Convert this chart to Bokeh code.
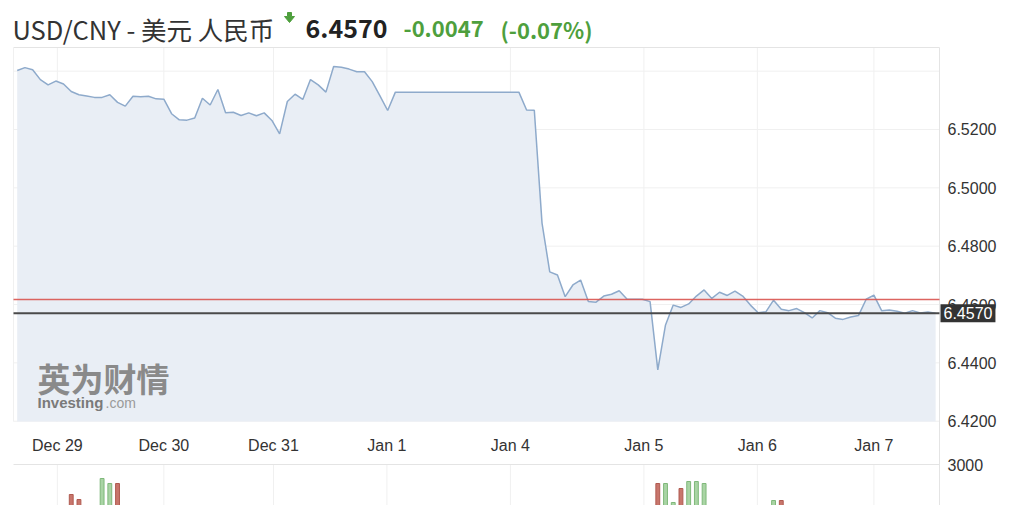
from bokeh.plotting import figure
from bokeh.models import Range1d, Label, PolyAnnotation, ColumnDataSource
from bokeh.core.properties import value
from bokeh.embed import file_html
from bokeh.resources import INLINE

# ---------------- data ----------------
price = [
    6.5402, 6.5412, 6.5405, 6.5371, 6.5353, 6.5366, 6.5356, 6.5330, 6.5319, 6.5315,
    6.5310, 6.5310, 6.5319, 6.5293, 6.5280, 6.5314, 6.5312, 6.5314, 6.5305, 6.5304,
    6.5254, 6.5233, 6.5232, 6.5239, 6.5307, 6.5284, 6.5337, 6.5257, 6.5259, 6.5248,
    6.5257, 6.5247, 6.5257, 6.5231, 6.5185, 6.5296, 6.5321, 6.5303, 6.5371, 6.5353,
    6.5328, 6.5416, 6.5413, 6.5407, 6.5398, 6.5398, 6.5364, 6.5315, 6.5265, 6.5328,
    6.5328, 6.5328, 6.5328, 6.5328, 6.5328, 6.5328, 6.5328, 6.5328, 6.5328, 6.5328,
    6.5328, 6.5328, 6.5328, 6.5328, 6.5328, 6.5328, 6.5267, 6.5266, 6.4879, 6.4712,
    6.4701, 6.4627, 6.4667, 6.4684, 6.4610, 6.4608, 6.4629, 6.4635, 6.4647, 6.4619,
    6.4618, 6.4618, 6.4610, 6.4376, 6.4530, 6.4598, 6.4590, 6.4602, 6.4629, 6.4650,
    6.4621, 6.4642, 6.4631, 6.4646, 6.4629, 6.4598, 6.4572, 6.4575, 6.4615, 6.4584,
    6.4579, 6.4586, 6.4572, 6.4554, 6.4579, 6.4572, 6.4553, 6.4549, 6.4557, 6.4562,
    6.4618, 6.4632, 6.4579, 6.4581, 6.4577, 6.4570, 6.4579, 6.4571, 6.4574, 6.4570,
]
t = list(range(len(price)))

day_ticks = [5.2, 19.0, 33.2, 47.9, 63.9, 81.2, 95.9, 111.0]
day_labels = ["Dec 29", "Dec 30", "Dec 31", "Jan 1", "Jan 4", "Jan 5", "Jan 6", "Jan 7"]
price_ticks = [6.42, 6.44, 6.46, 6.48, 6.50, 6.52, 6.54]
price_tick_labels = ["6.4200", "6.4400", "6.4600", "6.4800", "6.5000", "6.5200", ""]

last_price = 6.4570
prev_close = 6.4617
title_text = "USD/CNY - 美元 人民币"
last_text = "6.4570"
change_text = "-0.0047"
change_pct_text = "(-0.07%)"

vol_t = [7, 8, 11, 12, 13, 83, 84, 85, 86, 87, 88, 89, 98, 99]
vol = [2100, 1950, 2580, 2430, 2430, 2430, 2430, 1860, 2280, 2490, 2490, 2430, 1920, 1920]
vol_up = [False, False, True, True, False, False, True, True, False, True, True, True, True, False]
vol_ticks = [3000]
vol_tick_labels = ["3000"]

# ---------------- geometry / styles ----------------
W, H = 1000, 505
CH_L, CH_T, CH_R, CH_B = 13, 47, 939, 421      # chart box in canvas pixels
VOL_TOP = 464                                  # volume panel top in canvas pixels
chart_x = (-0.48, 119.5)
chart_y = (6.4199, 6.5481)
vol_per_px = 30.0

AX_FONT = "Liberation Sans"
CJK_FONT = "Noto Sans CJK SC"
GREEN = "#4e9f3d"
FILL = "#e9eef5"
LINE = "#8eaacb"
GRID = "#f0f0f0"
BORDER = "#e4e4e4"

sx = (CH_R - CH_L) / (chart_x[1] - chart_x[0])
sy = (CH_B - CH_T) / (chart_y[1] - chart_y[0])
x_range = Range1d(chart_x[0] - CH_L / sx, chart_x[1] + (W - CH_R) / sx)
y_range = Range1d(chart_y[0] - (H - CH_B) / sy, chart_y[1] + CH_T / sy)
vol_range = Range1d(vol_ticks[0] - (H - VOL_TOP) * vol_per_px, vol_ticks[0] + VOL_TOP * vol_per_px)

p = figure(width=W, height=H, x_range=x_range, y_range=y_range,
           x_axis_location=None, y_axis_location=None,
           output_backend="svg", toolbar_location=None,
           min_border=0, min_border_left=0, min_border_right=0, min_border_top=0, min_border_bottom=0)
p.extra_y_ranges = {"vol": vol_range}
p.outline_line_color = None
p.xgrid.visible = False
p.ygrid.visible = False
p.background_fill_color = "white"

# grid lines of chart area
n_y = len(price_ticks)
p.segment(x0=[chart_x[0]] * n_y, x1=[chart_x[1]] * n_y, y0=price_ticks, y1=price_ticks,
          line_color=GRID, line_width=1)
n_d = len(day_ticks)
p.segment(x0=day_ticks, x1=day_ticks, y0=[chart_y[0]] * n_d, y1=[chart_y[1]] * n_d,
          line_color=GRID, line_width=1)
# grid lines of volume panel
p.segment(x0=day_ticks, x1=day_ticks, y0=[vol_range.start] * n_d, y1=[vol_ticks[0]] * n_d,
          line_color=GRID, line_width=1, y_range_name="vol")

# area + line
src = ColumnDataSource(dict(t=t, price=price))
p.varea(x="t", y1=chart_y[0], y2="price", source=src, fill_color=FILL)
p.line(x="t", y="price", source=src, line_color=LINE, line_width=1.5)

# borders
p.segment(x0=[chart_x[0]], x1=[chart_x[1]], y0=[chart_y[1]], y1=[chart_y[1]], line_color=BORDER)
p.segment(x0=[chart_x[0]], x1=[chart_x[0]], y0=[chart_y[0]], y1=[chart_y[1]], line_color=GRID)
p.segment(x0=[chart_x[1]], x1=[chart_x[1]], y0=[y_range.start], y1=[chart_y[1]], line_color=BORDER)
p.segment(x0=[chart_x[0]], x1=[chart_x[1]], y0=vol_ticks, y1=vol_ticks, line_color=BORDER,
          y_range_name="vol")

# previous close (red) and last price (dark) lines
p.segment(x0=[chart_x[0]], x1=[chart_x[1]], y0=[prev_close], y1=[prev_close],
          line_color="#d9534f", line_width=1.5, line_alpha=0.9)
p.segment(x0=[chart_x[0]], x1=[chart_x[1]], y0=[last_price], y1=[last_price],
          line_color="#4a4a4a", line_width=2)

# volume bars
vsrc = ColumnDataSource(dict(t=vol_t, vol=vol,
                             fill=["#a9d4a4" if u else "#c8766c" for u in vol_up],
                             edge=["#7fb87a" if u else "#b05a50" for u in vol_up]))
p.vbar(x="t", top="vol", bottom=0, width=0.5, source=vsrc, fill_color="fill", line_color="edge",
       y_range_name="vol")

# right-side tick labels
p.text(x=[chart_x[1]] * n_y, y=price_ticks, text=price_tick_labels, x_offset=8,
       text_font=value(AX_FONT), text_font_size="16px", text_color="#333333",
       text_baseline="middle", text_align="left")
p.text(x=[chart_x[1]], y=vol_ticks, text=vol_tick_labels, x_offset=8,
       text_font=value(AX_FONT), text_font_size="16px", text_color="#333333",
       text_baseline="middle", text_align="left", y_range_name="vol")
# bottom day labels
p.text(x=day_ticks, y=[chart_y[0]] * n_d, text=day_labels, y_offset=24,
       text_font=value(AX_FONT), text_font_size="16px", text_color="#333333",
       text_baseline="middle", text_align="center")

# last-price tag
p.add_layout(Label(x=CH_R + 1, x_units="screen", y=last_price, y_units="data", text=last_text,
                   text_color="white", text_font=AX_FONT, text_font_size="16px",
                   text_baseline="middle", background_fill_color="#333333", padding=3))

# header (screen units, y measured up from canvas bottom)
HY = H - 28
p.add_layout(Label(x=12, y=HY, x_units="screen", y_units="screen", text=title_text,
                   text_font=CJK_FONT, text_font_size="25.5px", text_color="#333333",
                   text_baseline="middle"))
p.add_layout(PolyAnnotation(xs=[287, 291, 291, 294, 289, 284, 287],
                            ys=[H - 12, H - 12, H - 16, H - 16, H - 22, H - 16, H - 16],
                            xs_units="screen", ys_units="screen", fill_color=GREEN, fill_alpha=1,
                            line_color=GREEN, line_alpha=1))
p.add_layout(Label(x=305, y=HY, x_units="screen", y_units="screen", text=last_text,
                   text_font=CJK_FONT, text_font_size="25px", text_font_style="bold",
                   text_color="#222222", text_baseline="middle"))
p.add_layout(Label(x=403, y=HY, x_units="screen", y_units="screen", text=change_text,
                   text_font=CJK_FONT, text_font_size="22px", text_font_style="bold",
                   text_color=GREEN, text_baseline="middle"))
p.add_layout(Label(x=500, y=HY, x_units="screen", y_units="screen", text=change_pct_text,
                   text_font=CJK_FONT, text_font_size="22px", text_font_style="bold",
                   text_color=GREEN, text_baseline="middle"))

# watermark
p.add_layout(Label(x=37, y=H - 377, x_units="screen", y_units="screen", text="英为财情",
                   text_font=CJK_FONT, text_font_size="33px", text_font_style="bold",
                   text_color="#8a8a8a", text_baseline="middle"))
p.add_layout(Label(x=37, y=H - 402, x_units="screen", y_units="screen", text="Investing",
                   text_font=AX_FONT, text_font_size="15px", text_font_style="bold",
                   text_color="#7a7a7a", text_baseline="middle"))
p.add_layout(Label(x=105, y=H - 402, x_units="screen", y_units="screen", text=".com",
                   text_font=AX_FONT, text_font_size="14px",
                   text_color="#9a9a9a", text_baseline="middle"))

open("out.html", "w").write(file_html(p, INLINE))
